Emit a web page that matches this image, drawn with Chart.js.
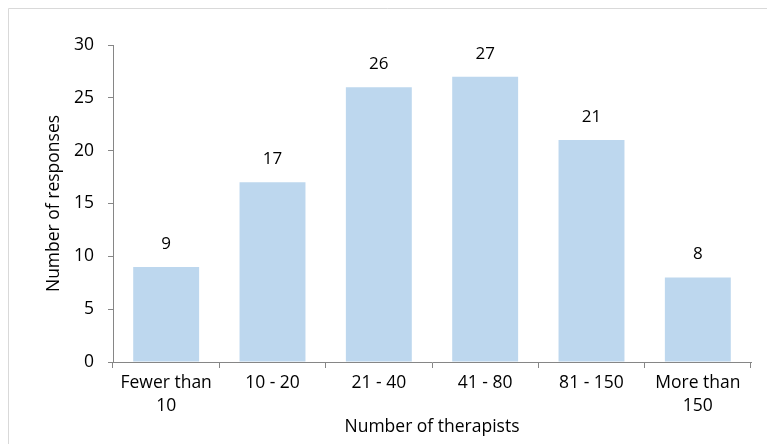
<!DOCTYPE html>
<html>
<head>
<meta charset="utf-8">
<script src="https://cdn.jsdelivr.net/npm/chart.js@4/dist/chart.umd.min.js"></script>
<style>
html,body{margin:0;padding:0;background:#fff;}
#wrap{position:absolute;left:0;top:0;width:767px;height:444px;}
</style>
</head>
<body>
<div id="wrap"><canvas id="c" width="767" height="444"></canvas></div>
<script>
const categories = [["Fewer than","10"], "10 - 20", "21 - 40", "41 - 80", "81 - 150", ["More than","150"]];
const responses = [9, 17, 26, 27, 21, 8];
const yTicks = [0, 5, 10, 15, 20, 25, 30];

const FONT = "'Open Sans', sans-serif";
const AXIS = '#868686';

const framePlugin = {
  id: 'frame',
  beforeDraw(chart) {
    const ctx = chart.ctx;
    ctx.save();
    ctx.fillStyle = '#fff';
    ctx.fillRect(0, 0, chart.width, chart.height);
    ctx.strokeStyle = '#d9d9d9';
    ctx.lineWidth = 1;
    ctx.beginPath();
    ctx.moveTo(8.5, chart.height);
    ctx.lineTo(8.5, 8.5);
    ctx.lineTo(chart.width, 8.5);
    ctx.stroke();
    ctx.restore();
  }
};

const labelPlugin = {
  id: 'vals',
  afterDatasetsDraw(chart) {
    const ctx = chart.ctx;
    const meta = chart.getDatasetMeta(0);
    ctx.save();
    ctx.font = "17px " + FONT;
    ctx.fillStyle = '#000';
    ctx.textAlign = 'center';
    ctx.textBaseline = 'middle';
    meta.data.forEach((bar, i) => {
      ctx.fillText(String(responses[i]), bar.x, bar.y - 23);
    });
    ctx.restore();
  }
};

new Chart(document.getElementById('c'), {
  type: 'bar',
  data: {
    labels: categories,
    datasets: [{
      data: responses,
      backgroundColor: '#BDD7EE',
      borderWidth: 0,
      categoryPercentage: 1,
      barPercentage: 0.62
    }]
  },
  options: {
    responsive: false,
    animation: false,
    devicePixelRatio: 1,
    layout: { padding: { left: 0, top: 45, right: 16, bottom: 0 } },
    plugins: { legend: { display: false }, tooltip: { enabled: false } },
    scales: {
      x: {
        offset: true,
        border: { display: true, color: AXIS, width: 1 },
        grid: { display: true, drawOnChartArea: false, offset: true, tickLength: 6, color: AXIS },
        ticks: { color: '#000', font: { family: FONT, size: 17.5, lineHeight: 1.3 }, padding: 4, maxRotation: 0, autoSkip: false },
        title: { display: true, text: 'Number of therapists', color: '#000', font: { family: FONT, size: 17.5 }, padding: { top: 0, bottom: 6 } },
        afterFit(s) { s.height = 82; }
      },
      y: {
        min: 0, max: 30,
        border: { display: true, color: AXIS, width: 1 },
        grid: { display: true, drawOnChartArea: false, tickLength: 5, color: AXIS },
        afterBuildTicks(s) { s.ticks = yTicks.map(v => ({ value: v })); },
        ticks: { color: '#000', font: { family: FONT, size: 17.5 }, padding: 14 },
        title: { display: true, text: 'Number of responses', color: '#000', font: { family: FONT, size: 17.5 }, padding: { top: 44, bottom: 0 } },
        afterFit(s) { s.width = 113; }
      }
    }
  },
  plugins: [framePlugin, labelPlugin]
});
</script>
</body>
</html>
